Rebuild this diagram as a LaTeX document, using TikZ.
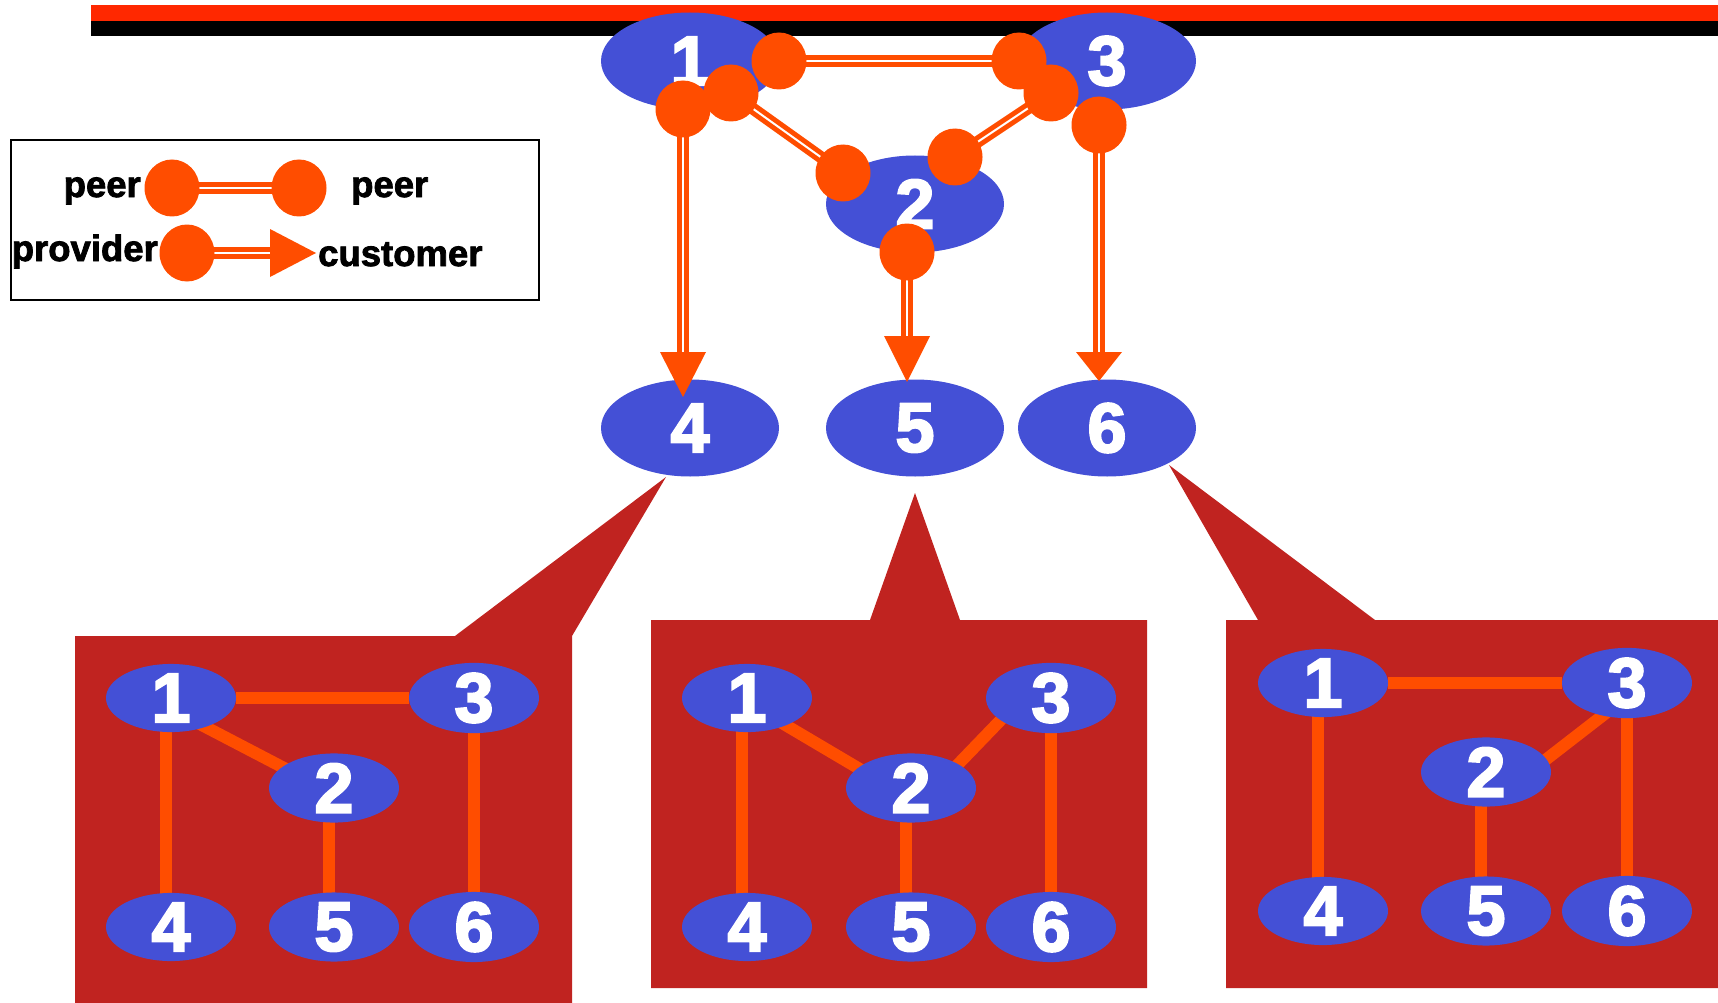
\documentclass[tikz,border=0pt]{standalone}
\usepackage{fontspec}
\newfontfamily\heavy{Liberation Sans Bold}[FakeBold=3]
\newfontfamily\legendfont{Liberation Sans Bold}[FakeBold=2.2]
\usetikzlibrary{shapes.geometric,calc}
\definecolor{asblue}{RGB}{68,80,214}
\definecolor{linkorange}{RGB}{255,77,0}
\definecolor{panelred}{RGB}{192,35,32}
\definecolor{barred}{RGB}{255,40,0}
\pgfdeclarelayer{bg}
\pgfdeclarelayer{edges}
\pgfsetlayers{bg,edges,main}
\begin{document}
\begin{tikzpicture}[x=1pt,y=-1pt,
  asnode/.style={ellipse, fill=asblue, inner sep=0pt, minimum width=178pt, minimum height=97pt,
                 text=white, font=\heavy\fontsize{70}{70}\selectfont},
  smallas/.style={asnode, minimum width=130pt, minimum height=60pt},
  dot/.style={ellipse, fill=linkorange, inner sep=0pt, minimum width=55pt, minimum height=57pt},
  peerlink/.style={draw=linkorange, double=white, double distance=2pt, line width=5pt},
  provlink/.style={draw=linkorange, double=white, double distance=2pt, line width=4.8pt},
  plink/.style={draw=linkorange, line width=12pt},
  headfill/.style={fill=linkorange},
  legtext/.style={font=\legendfont\fontsize{36.5}{36.5}\selectfont, inner sep=0pt},
]
\useasboundingbox (0,0) rectangle (1718,1003);

% ---------- backdrop: title bars, legend frame, callout panels ----------
\begin{pgfonlayer}{bg}
  \fill[barred] (91,5) rectangle (1718,21);
  \fill[black] (91,21) rectangle (1718,36);
  \draw[line width=1.5pt] (11,140) rectangle (539,300);
  \fill[panelred] (75,636) -- (455,636) -- (666,477) -- (572,636) -- (572,1003) -- (75,1003) -- cycle;
  \fill[panelred] (651,620) -- (870,620) -- (915,493) -- (960,620) -- (1147,620) -- (1147,988) -- (651,988) -- cycle;
  \fill[panelred] (1226,620) -- (1258,620) -- (1169,465) -- (1375,620) -- (1718,620) -- (1718,988) -- (1226,988) -- cycle;
\end{pgfonlayer}

% ---------- AS topology ----------
\node[asnode] (n1) at (690,61) {1};
\node[asnode] (n3) at (1107,61) {3};
\node[asnode] (n2) at (915,204) {2};
\node[asnode] (n4) at (690,428) {4};
\node[asnode] (n5) at (915,428) {5};
\node[asnode] (n6) at (1107,428) {6};

% link end points
\node[dot] (d13a) at (779,61) {};
\node[dot] (d13b) at (1019,61) {};
\node[dot] (d12a) at (731,93) {};
\node[dot] (d12b) at (843,173) {};
\node[dot] (d23a) at (1051,93) {};
\node[dot] (d23b) at (955,157) {};
\node[dot] (d14) at (683,109) {};
\node[dot] (d36) at (1099,125) {};
\node[dot] (d25) at (907,252) {};
\coordinate (h4) at (683,352);
\coordinate (h5) at (907,336);
\coordinate (h6) at (1099,352);

\begin{pgfonlayer}{edges}
  \draw[peerlink] (d13a.center) -- (d13b.center);
  \draw[peerlink] (d12a.center) -- (d12b.center);
  \draw[peerlink] (d23a.center) -- (d23b.center);
  \draw[provlink] (d14.center) -- (h4);
  \draw[provlink] (d25.center) -- (h5);
  \draw[provlink] (d36.center) -- (h6);
\end{pgfonlayer}

% arrow heads at the customer end
\fill[headfill] ($(h4)+(-23,0)$) -- ($(h4)+(23,0)$) -- ($(h4)+(0,45)$) -- cycle;
\fill[headfill] ($(h5)+(-23,0)$) -- ($(h5)+(23,0)$) -- ($(h5)+(0,46)$) -- cycle;
\fill[headfill] ($(h6)+(-23,0)$) -- ($(h6)+(23,0)$) -- ($(h6)+(0,29)$) -- cycle;

% ---------- legend ----------
\node[dot] (lp1) at (172,188) {};
\node[dot] (lp2) at (299,188) {};
\node[dot] (lpr) at (187,253) {};
\coordinate (lhead) at (270,253);
\begin{pgfonlayer}{edges}
  \draw[peerlink] (lp1.center) -- (lp2.center);
  \draw[provlink] (lpr.center) -- (lhead);
\end{pgfonlayer}
\fill[headfill] ($(lhead)+(0,-24)$) -- ($(lhead)+(0,24)$) -- ($(lhead)+(46,0)$) -- cycle;
\node[legtext, anchor=base east] (tpeer1) at (141,197) {peer};
\node[legtext, anchor=base west] (tpeer2) at (351,197) {peer};
\node[legtext, anchor=base east] (tprov) at (158,261) {provider};
\node[legtext, anchor=base west] (tcust) at (318,266) {customer};

% ---------- panel views ----------
% panel A
\node[smallas] (a1) at (171,698) {1};
\node[smallas] (a3) at (474,698) {3};
\node[smallas] (a2) at (334,788) {2};
\node[smallas] (a4) at (171,927) {4};
\node[smallas] (a5) at (334,927) {5};
\node[smallas] (a6) at (474,927) {6};
% panel B
\node[smallas] (b1) at (747,698) {1};
\node[smallas] (b3) at (1051,698) {3};
\node[smallas] (b2) at (911,788) {2};
\node[smallas] (b4) at (747,927) {4};
\node[smallas] (b5) at (911,927) {5};
\node[smallas] (b6) at (1051,927) {6};
% panel C
\node[smallas] (c1) at (1323,683) {1};
\node[smallas] (c3) at (1627,683) {3};
\node[smallas] (c2) at (1486,772) {2};
\node[smallas] (c4) at (1323,911) {4};
\node[smallas] (c5) at (1486,911) {5};
\node[smallas] (c6) at (1627,911) {6};

\begin{pgfonlayer}{edges}
  \draw[plink] (a1) -- (a3);
  \draw[plink] ($(a1.center)+(0,11)$) -- ($(a2.center)+(0,6)$);
  \draw[plink] ($(a1.center)+(-5,0)$) -- ($(a4.center)+(-5,-20)$);
  \draw[plink] ($(a2.center)+(-5,0)$) -- ($(a5.center)+(-5,0)$);
  \draw[plink] (a3.center) -- (a6.center);

  \draw[plink] ($(b1.center)+(13,12)$) -- ($(b2.center)+(-31,-7)$);
  \draw[plink] ($(b2.center)+(29,-5)$) -- ($(b3.center)+(-31,2)$);
  \draw[plink] ($(b1.center)+(-5,0)$) -- ($(b4.center)+(-5,0)$);
  \draw[plink] ($(b2.center)+(-5,0)$) -- ($(b5.center)+(-5,0)$);
  \draw[plink] (b3.center) -- (b6.center);

  \draw[plink] (c1) -- (c3);
  \draw[plink] ($(c2.center)+(49,-4)$) -- ($(c3.center)+(-12,23)$);
  \draw[plink] ($(c1.center)+(-5,0)$) -- ($(c4.center)+(-5,0)$);
  \draw[plink] ($(c2.center)+(-5,0)$) -- ($(c5.center)+(-5,0)$);
  \draw[plink] (c3.center) -- (c6.center);
\end{pgfonlayer}
\end{tikzpicture}
\end{document}
